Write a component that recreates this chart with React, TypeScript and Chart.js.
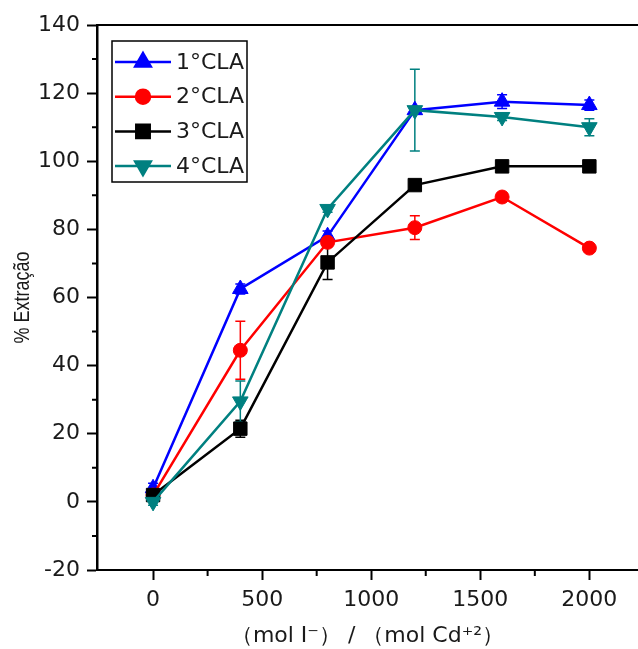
import React, { useEffect, useRef } from "react";
import { Chart, registerables } from "chart.js";
import { drawPoint } from "chart.js/helpers";

Chart.register(...registerables);

const xValues = [0, 400, 800, 1200, 1600, 2000];
const labels1 = "1°CLA";
const labels2 = "2°CLA";
const labels3 = "3°CLA";
const labels4 = "4°CLA";
const cla1 = [4, 62.5, 78, 115, 117.5, 116.5];
const cla1Err = [1.5, 1.5, 1.5, 1, 2, 1.5];
const cla2 = [2, 44.5, 76.2, 80.5, 89.5, 74.5];
const cla2Err = [1, 8.5, 1, 3.5, 1, 1];
const cla3 = [2, 21.5, 70.3, 93, 98.5, 98.5];
const cla3Err = [1, 2.5, 5, 1, 1, 1];
const cla4 = [0, 29.5, 86, 115, 113, 110];
const cla4Err = [1, 6, 1, 12, 1, 2.5];

const xTicks = [0, 500, 1000, 1500, 2000];
const xMinorTicks = [250, 750, 1250, 1750];
const yTicks = [-20, 0, 20, 40, 60, 80, 100, 120, 140];
const yMinorTicks = [-10, 10, 30, 50, 70, 90, 110, 130];
const yTitle = "% Extração";
const xTitle = "（mol I⁻） / （mol Cd⁺²）";

const WIDE = "'DejaVu Sans', sans-serif";
const NARROW = "'Liberation Sans', Arial, sans-serif";

const series = [
  { label: labels1, data: cla1, err: cla1Err, color: "#0000ff", style: "triangle", rot: 0, r: 9, order: 4 },
  { label: labels2, data: cla2, err: cla2Err, color: "#ff0000", style: "circle", rot: 0, r: 7, order: 3 },
  { label: labels3, data: cla3, err: cla3Err, color: "#000000", style: "rect", rot: 0, r: 9.5, order: 2 },
  { label: labels4, data: cla4, err: cla4Err, color: "#008080", style: "triangle", rot: 180, r: 9, order: 1 },
];

const errorBarPlugin = {
  id: "errorBars",
  beforeDatasetsDraw(chart: any) {
    const ctx = chart.ctx;
    const xs = chart.scales.x;
    const ys = chart.scales.y;
    ctx.save();
    series.forEach((s) => {
      ctx.strokeStyle = s.color;
      ctx.lineWidth = 1.5;
      s.data.forEach((v, i) => {
        const px = xs.getPixelForValue(xValues[i]);
        const top = ys.getPixelForValue(v + s.err[i]);
        const bot = ys.getPixelForValue(v - s.err[i]);
        ctx.beginPath();
        ctx.moveTo(px, top);
        ctx.lineTo(px, bot);
        ctx.moveTo(px - 5, top);
        ctx.lineTo(px + 5, top);
        ctx.moveTo(px - 5, bot);
        ctx.lineTo(px + 5, bot);
        ctx.stroke();
      });
    });
    ctx.restore();
  },
};

const framePlugin = {
  id: "frame",
  afterDraw(chart: any) {
    const ctx = chart.ctx;
    const xs = chart.scales.x;
    const ys = chart.scales.y;
    const area = chart.chartArea;
    ctx.save();
    ctx.strokeStyle = "#000";
    ctx.lineWidth = 2;
    ctx.beginPath();
    ctx.moveTo(area.left, area.top);
    ctx.lineTo(chart.width, area.top);
    ctx.stroke();
    ctx.beginPath();
    yMinorTicks.forEach((v) => {
      const py = ys.getPixelForValue(v);
      ctx.moveTo(area.left - 5, py);
      ctx.lineTo(area.left, py);
    });
    xMinorTicks.forEach((v) => {
      const px = xs.getPixelForValue(v);
      ctx.moveTo(px, area.bottom);
      ctx.lineTo(px, area.bottom + 6);
    });
    ctx.stroke();

    // y-axis title (slightly stretched like the original)
    ctx.save();
    ctx.translate(29, (area.top + area.bottom) / 2);
    ctx.rotate(-Math.PI / 2);
    ctx.scale(1, 1.2);
    ctx.font = `18px ${NARROW}`;
    ctx.fillStyle = "#1a1a1a";
    ctx.textAlign = "center";
    ctx.textBaseline = "alphabetic";
    ctx.fillText(yTitle, 0, 0);
    ctx.restore();

    // legend
    const lx = area.left + 15;
    const ly = area.top + 16;
    const lw = 135;
    const lh = 141;
    ctx.lineWidth = 1.5;
    ctx.strokeStyle = "#000";
    ctx.strokeRect(lx, ly, lw, lh);
    ctx.font = `22px ${WIDE}`;
    ctx.textBaseline = "middle";
    ctx.textAlign = "left";
    series.forEach((s, i) => {
      const cy = ly + 21 + i * 34.7;
      ctx.strokeStyle = s.color;
      ctx.lineWidth = 2.5;
      ctx.beginPath();
      ctx.moveTo(lx + 3, cy);
      ctx.lineTo(lx + 59, cy);
      ctx.stroke();
      ctx.fillStyle = s.color;
      drawPoint(ctx, { pointStyle: s.style, rotation: s.rot, radius: s.r, borderWidth: 1 }, lx + 31, cy);
      ctx.fillStyle = "#1a1a1a";
      ctx.fillText(s.label, lx + 64, cy + 1);
    });
    ctx.restore();
  },
};

export default function App() {
  const canvasRef = useRef<HTMLCanvasElement | null>(null);

  useEffect(() => {
    const canvas = canvasRef.current;
    if (!canvas) return;
    const chart = new Chart(canvas, {
      type: "line",
      data: {
        datasets: series.map((s) => ({
          label: s.label,
          data: s.data.map((v, i) => ({ x: xValues[i], y: v })),
          borderColor: s.color,
          backgroundColor: s.color,
          pointBackgroundColor: s.color,
          pointBorderColor: s.color,
          pointStyle: s.style as any,
          pointRotation: s.rot,
          pointRadius: s.r,
          pointBorderWidth: 1,
          borderWidth: 2.5,
          tension: 0,
          order: s.order,
        })),
      },
      options: {
        animation: false,
        responsive: false,
        maintainAspectRatio: false,
        layout: { autoPadding: false, padding: { top: 25, right: 0, left: 0, bottom: 0 } },
        plugins: {
          legend: { display: false },
          tooltip: { enabled: false },
        },
        scales: {
          x: {
            type: "linear",
            min: -257,
            max: 2223,
            afterBuildTicks: (scale: any) => {
              scale.ticks = xTicks.map((v) => ({ value: v }));
            },
            afterFit: (scale: any) => {
              scale.height = 79;
              scale.paddingRight = 0;
              scale.paddingLeft = 0;
            },
            grid: {
              drawOnChartArea: false,
              tickLength: 10,
              tickWidth: 2,
              tickColor: "#000",
            },
            border: { display: true, color: "#000", width: 2 },
            ticks: {
              color: "#1a1a1a",
              font: { family: WIDE, size: 22 },
              padding: 7,
              maxRotation: 0,
              autoSkip: false,
              callback: (v: any) => String(v),
            },
            title: {
              display: true,
              text: xTitle,
              color: "#1a1a1a",
              font: { family: WIDE, size: 22 },
              padding: { top: 0, bottom: 0 },
            },
          },
          y: {
            type: "linear",
            min: -20,
            max: 140,
            afterBuildTicks: (scale: any) => {
              scale.ticks = yTicks.map((v) => ({ value: v }));
            },
            afterFit: (scale: any) => {
              scale.width = 97;
            },
            grid: {
              drawOnChartArea: false,
              tickLength: 10,
              tickWidth: 2,
              tickColor: "#000",
            },
            border: { display: true, color: "#000", width: 2.5 },
            ticks: {
              color: "#1a1a1a",
              font: { family: WIDE, size: 22 },
              padding: 7,
              autoSkip: false,
              callback: (v: any) => String(v),
            },
            title: { display: false },
          },
        },
      },
      plugins: [errorBarPlugin, framePlugin],
    });
    return () => chart.destroy();
  }, []);

  return (
    <div style={{ position: "fixed", left: 0, top: 0, width: 638, height: 649, background: "#fff" }}>
      <canvas ref={canvasRef} width={638} height={649} style={{ width: 638, height: 649, display: "block" }} />
    </div>
  );
}
